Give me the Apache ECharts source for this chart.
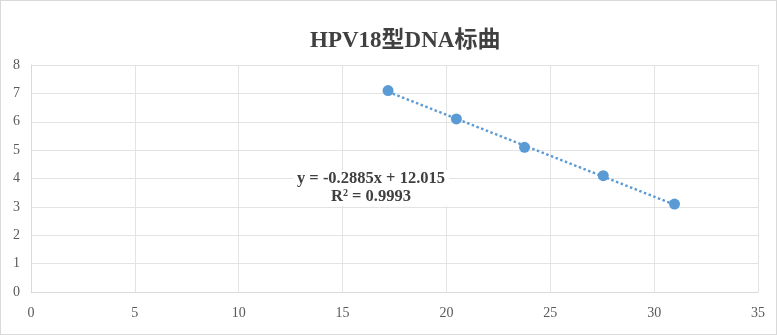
<!DOCTYPE html>
<html>
<head>
<meta charset="utf-8">
<script src="https://cdn.jsdelivr.net/npm/echarts@6/dist/echarts.min.js"></script>
<style>
  html, body { margin: 0; padding: 0; background: #fff; }
  #chart { width: 777px; height: 335px; box-sizing: border-box; border: 1px solid #d9d9d9; }
</style>
</head>
<body>
<div id="chart"></div>
<script>
// 数据
const xValues = [17.19, 20.48, 23.76, 27.55, 30.98];
const yValues = [7.1, 6.1, 5.1, 4.1, 3.1];
const slope = -0.2885;
const intercept = 12.015;
const rSquared = '0.9993';

const serif = '"Liberation Serif", "Times New Roman", "Noto Sans CJK SC", serif';

const points = xValues.map((x, i) => [x, yValues[i]]);
const xMin = Math.min(...xValues);
const xMax = Math.max(...xValues);
const trend = [xMin, xMax].map(x => [x, slope * x + intercept]);

const chart = echarts.init(document.getElementById('chart'));
chart.setOption({
  animation: false,
  title: {
    text: 'HPV18型DNA标曲',
    left: 304,
    top: 24,
    textStyle: {
      fontFamily: serif,
      fontSize: 23,
      fontWeight: 'bold',
      color: '#404040'
    }
  },
  grid: {left: 30, right: 18, top: 64, bottom: 42},
  xAxis: {
    type: 'value',
    min: 0,
    max: 35,
    interval: 5,
    axisLine: {show: true, lineStyle: {color: '#d9d9d9'}},
    axisTick: {show: false},
    axisLabel: {fontFamily: serif, fontSize: 14, color: '#595959', margin: 14},
    splitLine: {lineStyle: {color: '#e3e3e3'}}
  },
  yAxis: {
    type: 'value',
    min: 0,
    max: 8,
    interval: 1,
    axisLine: {show: true, lineStyle: {color: '#d9d9d9'}},
    axisTick: {show: false},
    axisLabel: {fontFamily: serif, fontSize: 14, color: '#595959', margin: 11},
    splitLine: {lineStyle: {color: '#e3e3e3'}}
  },
  series: [
    {
      type: 'line',
      data: trend,
      symbol: 'none',
      lineStyle: {color: '#5b9bd5', width: 2.5, type: [2.5, 2.5]},
      z: 1
    },
    {
      type: 'scatter',
      data: points,
      symbolSize: 11,
      itemStyle: {color: '#5b9bd5', opacity: 1},
      z: 2
    }
  ],
  graphic: [
    {
      type: 'rect',
      shape: {x: 292, y: 169, width: 156, height: 36},
      style: {fill: '#fff'},
      z: 10
    },
    {
      type: 'text',
      z: 11,
      style: {
        x: 370,
        y: 178,
        text: 'y = ' + slope + 'x + ' + intercept,
        font: 'bold 16.5px ' + serif,
        fill: '#404040',
        align: 'center',
        verticalAlign: 'middle'
      }
    },
    {
      type: 'text',
      z: 11,
      style: {
        x: 370,
        y: 196,
        text: '{b|R}{s|2}{b| = ' + rSquared + '}',
        align: 'center',
        verticalAlign: 'middle',
        rich: {
          b: {font: 'bold 16.5px ' + serif, fill: '#404040'},
          s: {font: 'bold 10px ' + serif, fill: '#404040', verticalAlign: 'top', padding: [0, 0, 7, 0]}
        }
      }
    }
  ]
});
</script>
</body>
</html>
